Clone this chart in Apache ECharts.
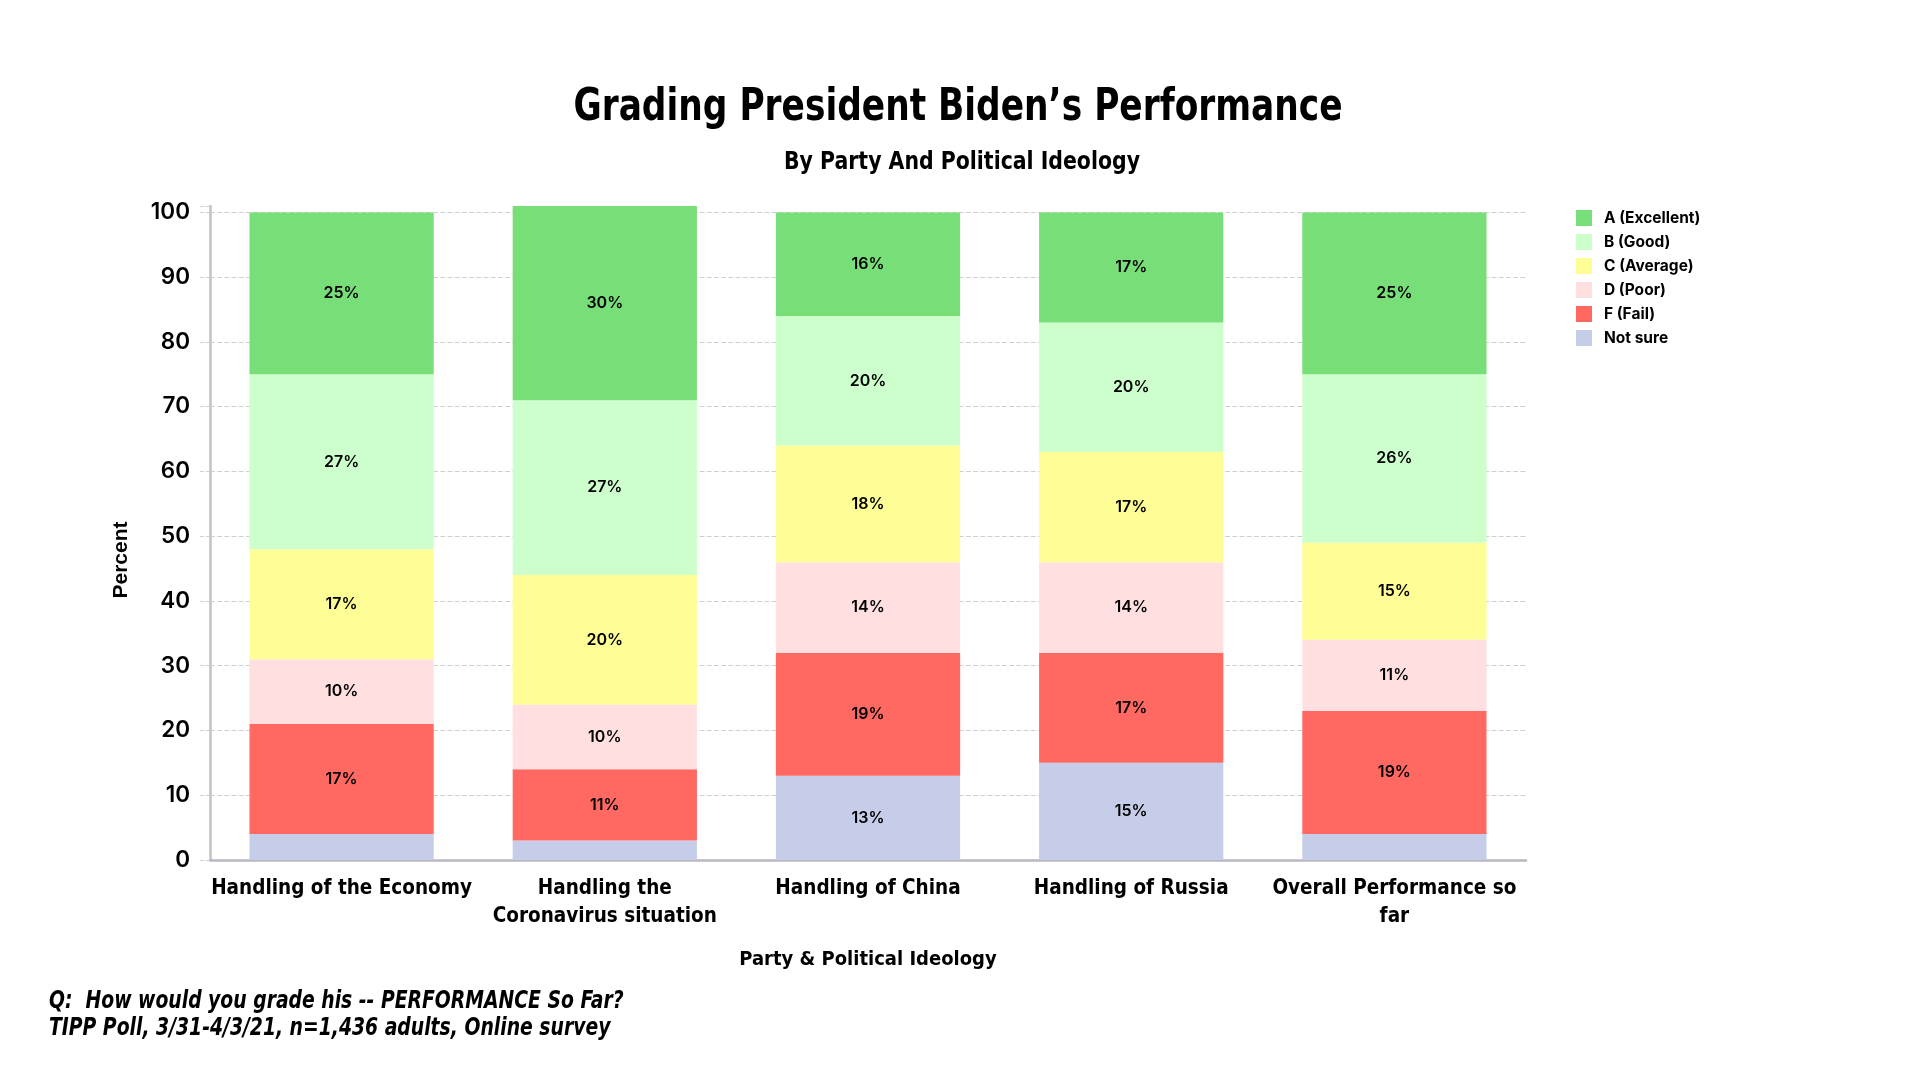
<!DOCTYPE html>
<html>
<head>
<meta charset="utf-8">
<script src="https://cdn.jsdelivr.net/npm/echarts@6/dist/echarts.min.js"></script>
<style>html,body{margin:0;padding:0;background:#fff}#c{width:1920px;height:1080px}</style>
</head>
<body>
<div id="c"></div>
<script>
const categories = ['Handling of the Economy', 'Handling the\nCoronavirus situation', 'Handling of China', 'Handling of Russia', 'Overall Performance so\nfar'];
const seriesNames = ['A (Excellent)', 'B (Good)', 'C (Average)', 'D (Poor)', 'F (Fail)', 'Not sure'];
const notSure   = [4, 3, 13, 15, 4];
const fFail     = [17, 11, 19, 17, 19];
const dPoor     = [10, 10, 14, 14, 11];
const cAverage  = [17, 20, 18, 17, 15];
const bGood     = [27, 27, 20, 20, 26];
const aExcellent= [25, 30, 16, 17, 25];
const yTicks = [0, 10, 20, 30, 40, 50, 60, 70, 80, 90, 100];
const titleText = 'Grading President Biden\u2019s Performance';
const subtitleText = 'By Party And Political Ideology';
const noteLines = ['Q:  How would you grade his -- PERFORMANCE So Far?', 'TIPP Poll, 3/31-4/3/21, n=1,436 adults, Online survey'];

const COND = "'DejaVu Sans Condensed', 'DejaVu Sans', sans-serif";
const WIDE = "'Inter', 'Roboto', 'Noto Sans', sans-serif";

const colors = {
  'A (Excellent)': '#78DE78',
  'B (Good)': '#CCFFCC',
  'C (Average)': '#FFFD96',
  'D (Poor)': '#FFDFE0',
  'F (Fail)': '#FF6961',
  'Not sure': '#C6CDE9'
};
const stackOrder = [['Not sure', notSure], ['F (Fail)', fFail], ['D (Poor)', dPoor], ['C (Average)', cAverage], ['B (Good)', bGood], ['A (Excellent)', aExcellent]];

const chart = echarts.init(document.getElementById('c'));
chart.setOption({
  backgroundColor: '#fff',
  animation: false,
  graphic: [
    { type: 'text', x: 958, y: 108, scaleX: 0.85,
      style: { text: titleText, fontFamily: COND, fontSize: 45, fontWeight: 'bold', fill: '#000', textAlign: 'center', textVerticalAlign: 'middle' } },
    { type: 'text', x: 962, y: 162.5, scaleX: 0.91,
      style: { text: subtitleText, fontFamily: COND, fontSize: 25, fontWeight: 'bold', fill: '#000', textAlign: 'center', textVerticalAlign: 'middle' } },
    { type: 'text', x: 49, y: 1002, scaleX: 0.87,
      style: { text: noteLines[0], fontFamily: COND, fontSize: 24, fontStyle: 'italic', fontWeight: 'bold', fill: '#000', textAlign: 'left', textVerticalAlign: 'middle' } },
    { type: 'text', x: 49, y: 1029, scaleX: 0.87,
      style: { text: noteLines[1], fontFamily: COND, fontSize: 24, fontStyle: 'italic', fontWeight: 'bold', fill: '#000', textAlign: 'left', textVerticalAlign: 'middle' } },
    { type: 'text', x: 121, y: 560, rotation: Math.PI / 2,
      style: { text: 'Percent', fontFamily: "'Liberation Sans', Arial, sans-serif", fontSize: 21, fontWeight: 'bold', fill: '#000', textAlign: 'center', textVerticalAlign: 'middle' } }
  ],
  legend: {
    orient: 'vertical', left: 1571, top: 205, itemWidth: 16, itemHeight: 16, itemGap: 8,
    data: seriesNames,
    textStyle: { fontFamily: WIDE, fontSize: 15.5, fontWeight: 700, color: '#000', padding: [0, 0, 0, 7] },
    icon: 'rect'
  },
  grid: { left: 210, right: 394, top: 206, bottom: 220 },
  xAxis: {
    type: 'category', data: categories,
    name: 'Party & Political Ideology', nameLocation: 'middle', nameGap: 90,
    nameTextStyle: { fontFamily: COND, fontSize: 20, fontWeight: 'bold', color: '#000' },
    axisLine: { lineStyle: { color: '#b8b8c0', width: 2.5 } },
    axisTick: { show: false },
    axisLabel: { fontFamily: COND, fontSize: 20.5, fontWeight: 'bold', color: '#000', lineHeight: 28, margin: 15, interval: 0 }
  },
  yAxis: {
    type: 'value', min: 0, max: 101, interval: 10,
    axisLine: { show: true, lineStyle: { color: '#c0c0c8', width: 2.5 } },
    axisTick: { show: true, length: 10, lineStyle: { color: '#d0d0d0', type: 'dashed' } },
    splitLine: { show: true, showMaxLine: false, lineStyle: { color: '#cfcfcf', type: 'dashed', width: 1.2 } },
    axisLabel: { fontFamily: WIDE, fontSize: 22.5, fontWeight: 600, color: '#000', margin: 20,
      formatter: v => (yTicks.indexOf(v) >= 0 ? String(v) : '') }
  },
  series: stackOrder.map(([name, vals]) => ({
    name, type: 'bar', stack: 'all', barWidth: '70%', clip: false,
    itemStyle: { color: colors[name] },
    label: { show: true, position: 'inside', fontFamily: WIDE, fontSize: 16, fontWeight: 600, color: '#000',
      formatter: p => (p.value >= 5 ? p.value + '%' : '') },
    data: vals
  }))
});
</script>
</body>
</html>
